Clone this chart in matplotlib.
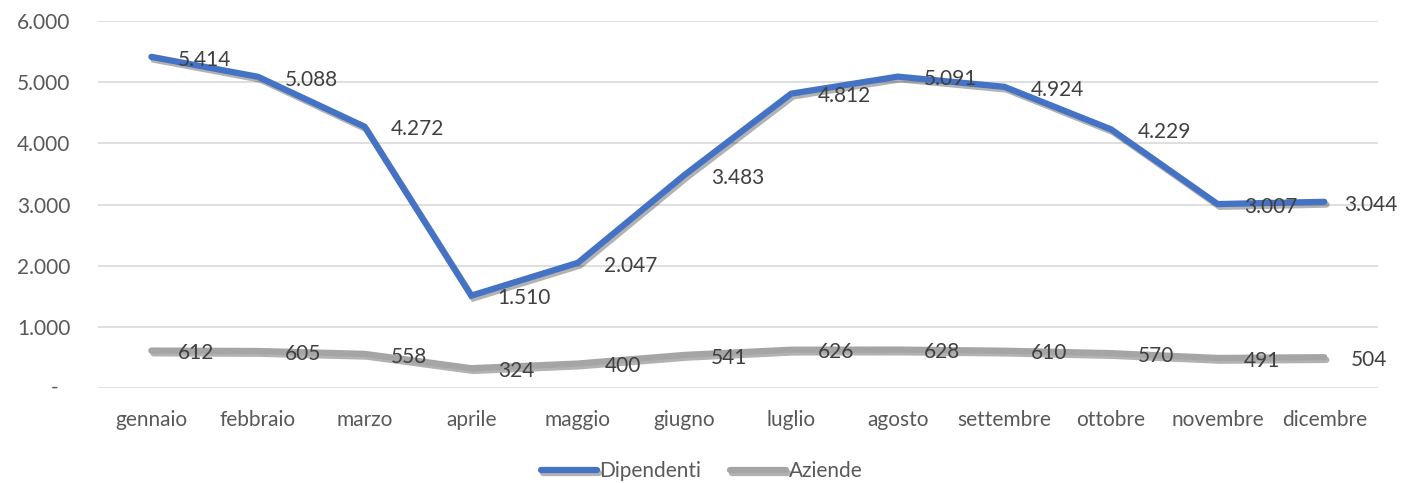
import numpy as np
import matplotlib.pyplot as plt
import matplotlib.patheffects as pe
from matplotlib.ticker import FuncFormatter

mesi = ["gennaio", "febbraio", "marzo", "aprile", "maggio", "giugno",
        "luglio", "agosto", "settembre", "ottobre", "novembre", "dicembre"]
dipendenti = [5414, 5088, 4272, 1510, 2047, 3483, 4812, 5091, 4924, 4229, 3007, 3044]
aziende = [612, 605, 558, 324, 400, 541, 626, 628, 610, 570, 491, 504]

def fmt_it(v):
    if v == 0:
        return ""
    return f"{int(round(v)):,}".replace(",", ".")

plt.rcParams['font.family'] = ['Lato', 'DejaVu Sans']

fig = plt.figure(figsize=(14.03, 4.83), dpi=100)
ax = fig.add_axes([0.0699, 0.1967, 0.912, 0.7598])

x = np.arange(len(mesi))
shadow = [pe.SimpleLineShadow(offset=(1.5, -2), alpha=0.3, rho=0.5), pe.Normal()]

ax.plot(x, dipendenti, color="#4472C4", lw=4.5, solid_capstyle="round",
        solid_joinstyle="miter", label="Dipendenti", path_effects=shadow, zorder=3)
ax.plot(x, aziende, color="#A5A5A5", lw=4.5, solid_capstyle="round",
        solid_joinstyle="miter", label="Aziende", path_effects=shadow, zorder=3)

for i in range(len(mesi)):
    off = 14 if i == len(mesi) - 1 else 19
    ax.annotate(fmt_it(dipendenti[i]), (x[i], dipendenti[i]), xytext=(off, -2),
                textcoords="offset points", ha="left", va="center",
                fontsize=15, color="#404040", zorder=4)
    ax.annotate(fmt_it(aziende[i]), (x[i], aziende[i]), xytext=(19, -2),
                textcoords="offset points", ha="left", va="center",
                fontsize=15, color="#404040", zorder=4)

ax.set_xlim(-0.5, len(mesi) - 0.5)
ax.set_ylim(0, 6000)
ax.set_yticks(np.arange(0, 6001, 1000))
ax.yaxis.set_major_formatter(FuncFormatter(lambda v, p: fmt_it(v)))
ax.set_xticks(x)
ax.set_xticklabels(mesi)
ax.tick_params(axis="both", length=0, labelsize=15, labelcolor="#595959")
ax.tick_params(axis="x", pad=16)
ax.tick_params(axis="y", pad=20)
ax.grid(axis="y", color="#D9D9D9", lw=1.2)
ax.set_axisbelow(True)
for s in ax.spines.values():
    s.set_visible(False)

# Excel accounting format shows zero as a dash, set in from the right
ax.annotate("-", (0, 0), xycoords=ax.get_yaxis_transform(), xytext=(-31, 0),
            textcoords="offset points", ha="center", va="center",
            fontsize=15, color="#595959")

fig.legend(loc="lower center", bbox_to_anchor=(0.5, -0.035), ncol=2, frameon=False,
           fontsize=15, handlelength=2.7, handletextpad=0.1, columnspacing=1.4,
           labelcolor="#595959")

fig.savefig("out.png", dpi=100)
